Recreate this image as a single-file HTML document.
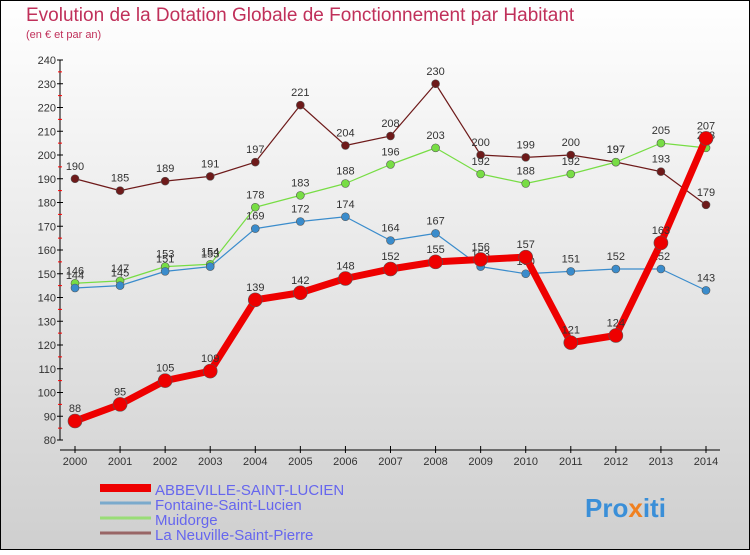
<!DOCTYPE html>
<html><head><meta charset="utf-8"><style>
body{margin:0;width:750px;height:550px;overflow:hidden;font-family:"Liberation Sans",sans-serif}
</style></head><body>
<svg id="c" width="750" height="550" xmlns="http://www.w3.org/2000/svg">
<defs><linearGradient id="bg" x1="0" y1="0" x2="0" y2="1"><stop offset="0" stop-color="#ffffff"/><stop offset="1" stop-color="#cfcfcf"/></linearGradient></defs>
<rect x="0.5" y="0.5" width="749" height="549" fill="url(#bg)" stroke="#000"/>
<text x="26" y="21" font-size="19" fill="#c0305a">Evolution de la Dotation Globale de Fonctionnement par Habitant</text>
<text x="26" y="38" font-size="11" fill="#c0305a">(en € et par an)</text>
<g id="axes"></g><g id="series"></g><g id="legend"></g>
<text x="585" y="517" font-size="26" font-weight="bold" fill="#3a8fd8">Pro<tspan fill="#f08020">x</tspan>iti</text>
</svg>
<script>
const years=[2000,2001,2002,2003,2004,2005,2006,2007,2008,2009,2010,2011,2012,2013,2014];
const abbeville=[88,95,105,109,139,142,148,152,155,156,157,121,124,163,207];
const fontaine=[144,145,151,153,169,172,174,164,167,153,150,151,152,152,143];
const muidorge=[146,147,153,154,178,183,188,196,203,192,188,192,197,205,203];
const neuville=[190,185,189,191,197,221,204,208,230,200,199,200,197,193,179];
const yTicks=[80,90,100,110,120,130,140,150,160,170,180,190,200,210,220,230,240];
const NS="http://www.w3.org/2000/svg";
const xs=i=>75+i*(706-75)/14;
const ys=v=>440-(v-80)*380/160;
function mk(t,a,p){const e=document.createElementNS(NS,t);for(const k in a)e.setAttribute(k,a[k]);p.appendChild(e);return e;}
const ax=document.getElementById('axes');
let l=mk('line',{x1:60,y1:60,x2:60,y2:440,stroke:'#000'},ax);


l=mk('line',{x1:60,y1:450,x2:720,y2:450,stroke:'#000'},ax);


yTicks.forEach((v,i)=>{
  mk('line',{x1:57,y1:ys(v),x2:63,y2:ys(v),stroke:'#000'},ax);
  if(i<yTicks.length-1)mk('line',{x1:58,y1:ys(v+5),x2:62,y2:ys(v+5),stroke:'#f00'},ax);
  const t=mk('text',{x:56,y:ys(v)+4,'font-size':11,fill:'#333','text-anchor':'end'},ax);
  t.textContent=v;
  
  
});
years.forEach((y,i)=>{
  mk('line',{x1:xs(i),y1:446,x2:xs(i),y2:453,stroke:'#000'},ax);
  const t=mk('text',{x:xs(i),y:465,'font-size':11,fill:'#333','text-anchor':'middle'},ax);
  t.textContent=y;
  
  
});
const sg=document.getElementById('series');
function draw(data,color,w,r,name){
  const g=mk('g',{},sg);
  
  
  const p=mk('polyline',{points:data.map((v,i)=>xs(i)+','+ys(v)).join(' '),fill:'none',stroke:color,'stroke-width':w,'stroke-linejoin':'round'},g);
  
  
  data.forEach((v,i)=>{
    const c=mk('circle',{cx:xs(i),cy:ys(v),r:r,fill:color,stroke:'#555','stroke-width':0.6},g);
    
    
    const t=mk('text',{x:xs(i),y:ys(v)-9,'font-size':11,fill:'#333','text-anchor':'middle'},g);
    t.textContent=v;
    
    
  });
}
draw(neuville,'#6e1a1a',1.2,4,'neuville-series');
draw(muidorge,'#77dd44',1.2,4,'muidorge-series');
draw(fontaine,'#3a8ccc',1.2,4,'fontaine-series');
draw(abbeville,'#ee0000',7,7,'abbeville-series');
const lg=document.getElementById('legend');
const entries=[['ABBEVILLE-SAINT-LUCIEN','#ee0000',8,493],['Fontaine-Saint-Lucien','#7aaacc',3,508],['Muidorge','#99dd77',3,523],['La Neuville-Saint-Pierre','#996666',3,538]];
entries.forEach(e=>{
  const g=mk('g',{},lg);
  
  
  mk('line',{x1:100,y1:e[3]-5,x2:151,y2:e[3]-5,stroke:e[1],'stroke-width':e[2]},g);
  const t=mk('text',{x:155,y:e[3]+2,'font-size':15,fill:'#6666ee'},g);
  t.textContent=e[0];
});
</script>
</body></html>
